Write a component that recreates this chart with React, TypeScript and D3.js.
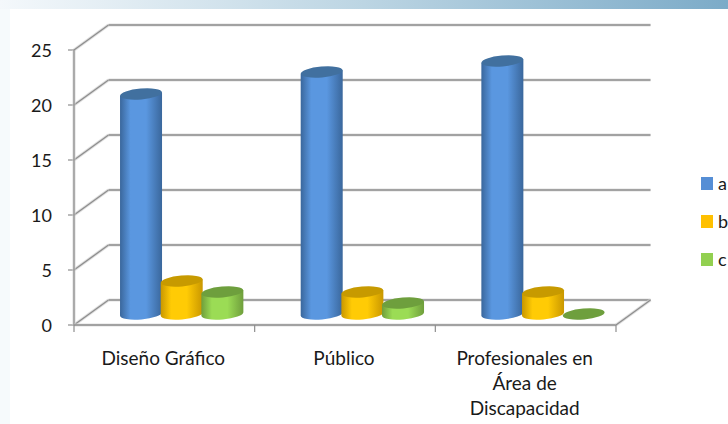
import React from "react";
import * as d3 from "d3";

const categories = ["Diseño Gráfico", "Público", "Profesionales en Área de Discapacidad"];
const categoryLines = [["Diseño Gráfico"], ["Público"], ["Profesionales en", "Área de", "Discapacidad"]];
const seriesNames = ["a", "b", "c"];
const seriesA = [20, 22, 23];
const seriesB = [3, 2, 2];
const seriesC = [2, 1, 0];
const seriesValues = [seriesA, seriesB, seriesC];
const yTicks = [0, 5, 10, 15, 20, 25];
const palette = [
  { dark: "#3a679c", mid: "#5a97e0", top: "#41709f", legend: "#558ed5" },
  { dark: "#c99700", mid: "#ffcb05", top: "#c79a00", legend: "#ffc000" },
  { dark: "#6f9e3c", mid: "#9bdc55", top: "#6e9f3d", legend: "#92d050" },
];

const W = 728, H = 424;
const y = d3.scaleLinear().domain([0, 25]).range([325, 50]);
const x0 = d3.scaleBand<string>().domain(categories).range([74, 616]);
const x1 = d3.scaleBand<string>().domain(seriesNames).range([46.7, 168.7]).padding(0);
const depthX = 34.5, depthY = 25;
const baseShift = 11;
const rx = 21, ry = 5.4, tilt = -5;
const font = "Lato, Carlito, sans-serif";
const gridColor = "#8e8e8e";

function GridLine(p: { x1: number; y1: number; x2: number; y2: number }) {
  return (
    <g>
      <line {...p} stroke="#d4d4d4" strokeWidth={3.2} opacity={0.7} />
      <line {...p} stroke={gridColor} strokeWidth={1.3} />
    </g>
  );
}

export default function App() {
  const dy = rx * Math.sin((-tilt * Math.PI) / 180);
  return (
    <svg width={W} height={H} style={{ position: "absolute", left: 0, top: 0, display: "block" }} fontFamily={font}>
      <defs>
        <linearGradient id="band" x1="0" x2="1" y1="0" y2="0">
          <stop offset="0" stopColor="#f4f8fb" />
          <stop offset="0.5" stopColor="#bcd5e3" />
          <stop offset="1" stopColor="#7cabc8" />
        </linearGradient>
        {palette.map((c, i) => (
          <linearGradient key={i} id={`cyl${i}`} x1="0" x2="1" y1="0" y2="0">
            <stop offset="0" stopColor={c.dark} />
            <stop offset="0.25" stopColor={c.mid} />
            <stop offset="0.62" stopColor={c.mid} />
            <stop offset="1" stopColor={c.dark} />
          </linearGradient>
        ))}
      </defs>
      <rect width={W} height={H} fill="#ffffff" />
      <rect width={10} height={H} fill="#f6fafc" />
      <rect width={W} height={9} fill="url(#band)" />

      {yTicks.map((t) => (
        <g key={t}>
          <GridLine x1={74} y1={y(t)} x2={74 + depthX} y2={y(t) - depthY} />
          <GridLine x1={74 + depthX} y1={y(t) - depthY} x2={616 + depthX} y2={y(t) - depthY} />
          <line x1={68} x2={74} y1={y(t)} y2={y(t)} stroke={gridColor} strokeWidth={1.2} />
          <text x={52} y={y(t) + 7} textAnchor="end" fontSize={18} fill="#1a1a1a">{t}</text>
        </g>
      ))}
      <GridLine x1={74} y1={y(0)} x2={74} y2={y(25)} />
      <GridLine x1={74} y1={y(0)} x2={616} y2={y(0)} />
      <GridLine x1={616} y1={y(0)} x2={616 + depthX} y2={y(0) - depthY} />
      {[...categories.map((c) => x0(c)!), 616].map((tx) => (
        <line key={tx} x1={tx} x2={tx} y1={325} y2={332} stroke={gridColor} strokeWidth={1.2} />
      ))}

      {categories.map((c, ci) =>
        seriesNames.map((s, si) => {
          const v = seriesValues[si][ci];
          const cx = x0(c)! + x1(s)! + x1.bandwidth() / 2;
          const top = y(v) - baseShift;
          const base = y(0) - baseShift;
          const l = cx - rx, r = cx + rx;
          const side = `M${l},${top + dy}L${l},${base + dy}A${rx},${ry} ${tilt} 0 0 ${r},${base - dy}L${r},${top - dy}Z`;
          return (
            <g key={s + c}>
              {v > 0 && <path d={side} fill={`url(#cyl${si})`} />}
              <ellipse cx={cx} cy={top} rx={rx} ry={ry} fill={palette[si].top} transform={`rotate(${tilt} ${cx} ${top})`} />
            </g>
          );
        })
      )}

      {categories.map((c, ci) => (
        <text key={c} textAnchor="middle" fontSize={19} fill="#1a1a1a">
          {categoryLines[ci].map((ln, li) => (
            <tspan key={ln} x={x0(c)! + x0.bandwidth() / 2 - 1} y={365 + li * 25}>{ln}</tspan>
          ))}
        </text>
      ))}

      {seriesNames.map((s, i) => {
        const ly = [177, 215, 253][i];
        return (
          <g key={s}>
            <rect x={701} y={ly} width={12} height={13} fill={palette[i].legend} />
            <text x={718} y={ly + 13} fontSize={18} fill="#1a1a1a">{s}</text>
          </g>
        );
      })}
    </svg>
  );
}
